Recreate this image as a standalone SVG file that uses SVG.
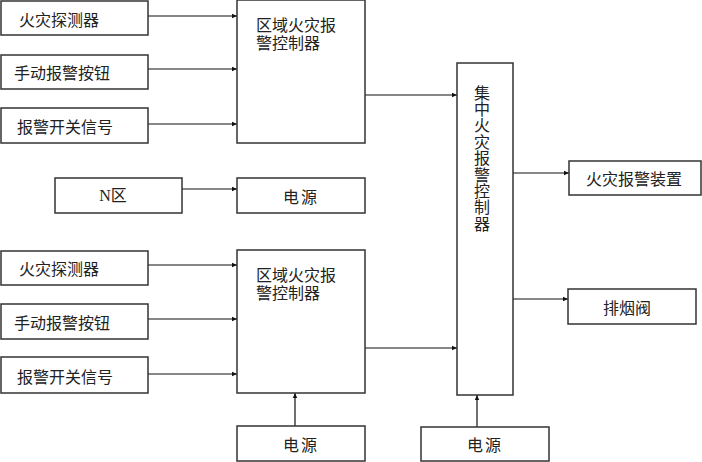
<svg xmlns="http://www.w3.org/2000/svg" width="702" height="462" viewBox="0 0 702 462">
<style>
.box{fill:#fff;stroke:#333;stroke-width:1.5}
.t{font-family:"Noto Sans CJK SC","Liberation Serif",sans-serif;font-size:16px;fill:#222;dominant-baseline:central}
.c{text-anchor:middle}
.v{font-family:"Noto Sans CJK SC",sans-serif;font-size:16px;fill:#222;writing-mode:vertical-rl;letter-spacing:0.4px}
.ln{stroke:#111;stroke-width:1.2;fill:none;marker-end:url(#ah)}
</style>
<defs>
<marker id="ah" markerWidth="6" markerHeight="6" refX="5" refY="3" orient="auto" markerUnits="userSpaceOnUse">
<path d="M0,0.8 L5,3 L0,5.2 Z" fill="#111"/>
</marker>
</defs>
<rect width="702" height="462" fill="#fff"/>
<g id="connectors">
<line class="ln" x1="148" y1="16" x2="237" y2="16"/>
<line class="ln" x1="148" y1="69" x2="237" y2="69"/>
<line class="ln" x1="148" y1="124" x2="237" y2="124"/>
<line class="ln" x1="182" y1="189" x2="237" y2="189"/>
<line class="ln" x1="148" y1="265" x2="237" y2="265"/>
<line class="ln" x1="148" y1="319" x2="237" y2="319"/>
<line class="ln" x1="148" y1="374" x2="237" y2="374"/>
<line class="ln" x1="295" y1="426" x2="295" y2="393"/>
<line class="ln" x1="365" y1="95" x2="457" y2="95"/>
<line class="ln" x1="365" y1="348" x2="457" y2="348"/>
<line class="ln" x1="477" y1="427" x2="477" y2="395"/>
<line class="ln" x1="513" y1="173" x2="569" y2="173"/>
<line class="ln" x1="513" y1="299" x2="568" y2="299"/>
</g>
<g id="det1"><rect class="box" x="1" y="1" width="147" height="34"/><text class="t" x="19" y="19">火灾探测器</text></g>
<g id="btn1"><rect class="box" x="1" y="55" width="147" height="34"/><text class="t" x="14" y="72">手动报警按钮</text></g>
<g id="sw1"><rect class="box" x="1" y="108" width="147" height="35"/><text class="t" x="17" y="126">报警开关信号</text></g>
<g id="ctrl1"><rect class="box" x="237" y="0" width="128" height="143"/><text class="t"><tspan x="256" y="24">区域火灾报</tspan><tspan x="256" y="42">警控制器</tspan></text></g>
<g id="nzone"><rect class="box" x="55" y="178" width="127" height="35"/><text class="t c" x="113" y="195.5" style="font-family:'Liberation Serif','Noto Sans CJK SC',serif">N区</text></g>
<g id="pwr1"><rect class="box" x="237" y="178" width="128" height="35"/><text class="t c" x="301" y="195.5" letter-spacing="2">电源</text></g>
<g id="det2"><rect class="box" x="1" y="251" width="147" height="34"/><text class="t" x="19" y="268">火灾探测器</text></g>
<g id="btn2"><rect class="box" x="1" y="304" width="147" height="35"/><text class="t" x="14" y="322">手动报警按钮</text></g>
<g id="sw2"><rect class="box" x="1" y="357" width="147" height="36"/><text class="t" x="17" y="376">报警开关信号</text></g>
<g id="ctrl2"><rect class="box" x="237" y="250" width="128" height="143"/><text class="t"><tspan x="256" y="274">区域火灾报</tspan><tspan x="256" y="292">警控制器</tspan></text></g>
<g id="pwr2"><rect class="box" x="237" y="426" width="128" height="35"/><text class="t c" x="301" y="443.5" letter-spacing="2">电源</text></g>
<g id="central"><rect class="box" x="457" y="63" width="56" height="332"/>
<text class="v" x="482" y="84.5">集中火灾报警控制器</text></g>
<g id="pwr3"><rect class="box" x="421" y="427" width="128" height="34"/><text class="t c" x="485" y="444" letter-spacing="2">电源</text></g>
<g id="alarm"><rect class="box" x="569" y="161" width="132" height="34"/><text class="t c" x="634" y="178">火灾报警装置</text></g>
<g id="smoke"><rect class="box" x="568" y="289" width="128" height="35"/><text class="t c" x="627" y="306.5">排烟阀</text></g>
</svg>
